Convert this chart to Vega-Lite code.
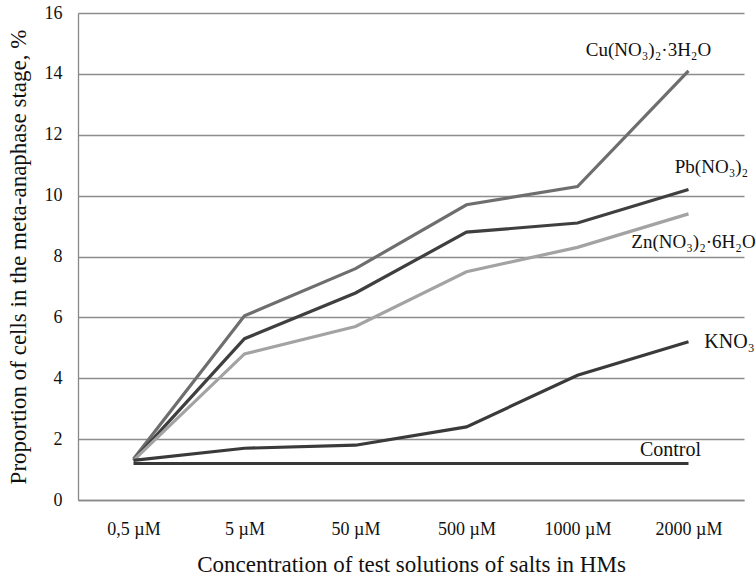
{
  "$schema": "https://vega.github.io/schema/vega-lite/v6.json",
  "width": 666,
  "height": 487,
  "autosize": {"type": "none"},
  "padding": {"left": 78, "top": 13, "right": 12, "bottom": 82},
  "background": "white",
  "config": {
    "view": {"stroke": null},
    "font": "Liberation Serif",
    "text": {"font": "Liberation Serif"}
  },
  "data": {
    "values": [
      {"series": "Cu", "conc": "0,5 µM", "value": 1.35},
      {"series": "Cu", "conc": "5 µM", "value": 6.05},
      {"series": "Cu", "conc": "50 µM", "value": 7.6},
      {"series": "Cu", "conc": "500 µM", "value": 9.7},
      {"series": "Cu", "conc": "1000 µM", "value": 10.3},
      {"series": "Cu", "conc": "2000 µM", "value": 14.1},
      {"series": "Pb", "conc": "0,5 µM", "value": 1.3},
      {"series": "Pb", "conc": "5 µM", "value": 5.3},
      {"series": "Pb", "conc": "50 µM", "value": 6.8},
      {"series": "Pb", "conc": "500 µM", "value": 8.8},
      {"series": "Pb", "conc": "1000 µM", "value": 9.1},
      {"series": "Pb", "conc": "2000 µM", "value": 10.2},
      {"series": "Zn", "conc": "0,5 µM", "value": 1.3},
      {"series": "Zn", "conc": "5 µM", "value": 4.8},
      {"series": "Zn", "conc": "50 µM", "value": 5.7},
      {"series": "Zn", "conc": "500 µM", "value": 7.5},
      {"series": "Zn", "conc": "1000 µM", "value": 8.3},
      {"series": "Zn", "conc": "2000 µM", "value": 9.4},
      {"series": "KNO3", "conc": "0,5 µM", "value": 1.3},
      {"series": "KNO3", "conc": "5 µM", "value": 1.7},
      {"series": "KNO3", "conc": "50 µM", "value": 1.8},
      {"series": "KNO3", "conc": "500 µM", "value": 2.4},
      {"series": "KNO3", "conc": "1000 µM", "value": 4.1},
      {"series": "KNO3", "conc": "2000 µM", "value": 5.2},
      {"series": "Control", "conc": "0,5 µM", "value": 1.2},
      {"series": "Control", "conc": "5 µM", "value": 1.2},
      {"series": "Control", "conc": "50 µM", "value": 1.2},
      {"series": "Control", "conc": "500 µM", "value": 1.2},
      {"series": "Control", "conc": "1000 µM", "value": 1.2},
      {"series": "Control", "conc": "2000 µM", "value": 1.2}
    ]
  },
  "encoding": {
    "x": {
      "field": "conc", "type": "nominal",
      "sort": ["0,5 µM", "5 µM", "50 µM", "500 µM", "1000 µM", "2000 µM"],
      "scale": {"type": "point", "padding": 0.5},
      "axis": {
        "title": "Concentration of test solutions of salts in HMs",
        "titleFont": "Liberation Serif", "labelFont": "Liberation Serif",
        "titleFontWeight": "normal", "titleColor": "#111", "labelColor": "#111",
        "titleFontSize": 23, "titlePadding": 15,
        "labelFontSize": 18, "labelAngle": 0, "labelPadding": 20,
        "ticks": false, "domainColor": "#888888", "domainWidth": 1.3, "grid": false
      }
    },
    "y": {
      "field": "value", "type": "quantitative",
      "scale": {"domain": [0, 16], "nice": false},
      "axis": {
        "title": "Proportion of cells in the meta-anaphase stage, %",
        "titleFont": "Liberation Serif", "labelFont": "Liberation Serif",
        "titleFontWeight": "normal", "titleColor": "#111", "labelColor": "#111",
        "titleFontSize": 23, "titlePadding": 14,
        "labelFontSize": 18, "labelPadding": 16,
        "values": [0, 2, 4, 6, 8, 10, 12, 14, 16],
        "ticks": false, "domainColor": "#888888", "domainWidth": 1.3,
        "grid": true, "gridColor": "#8c8c8c", "gridWidth": 1.3
      }
    }
  },
  "layer": [
    {
      "mark": {"type": "line", "strokeWidth": 3.2},
      "encoding": {
        "color": {
          "field": "series", "type": "nominal",
          "scale": {"domain": ["Cu", "Pb", "Zn", "KNO3", "Control"], "range": ["#6e6e6e", "#3f3f3f", "#a3a3a3", "#3a3a3a", "#383838"]},
          "legend": null
        }
      }
    },
    {
      "transform": [{"filter": "datum.series === 'Cu' && datum.conc === '2000 µM'"}],
      "mark": {"type": "text", "text": "Cu(NO₃)₂·3H₂O", "font": "Liberation Serif", "fontSize": 19, "dx": -40, "dy": -21, "color": "#111"}
    },
    {
      "transform": [{"filter": "datum.series === 'Pb' && datum.conc === '2000 µM'"}],
      "mark": {"type": "text", "text": "Pb(NO₃)₂", "font": "Liberation Serif", "fontSize": 19, "dx": 23, "dy": -23, "color": "#111"}
    },
    {
      "transform": [{"filter": "datum.series === 'Zn' && datum.conc === '2000 µM'"}],
      "mark": {"type": "text", "text": "Zn(NO₃)₂·6H₂O", "font": "Liberation Serif", "fontSize": 19, "dx": 5, "dy": 28, "color": "#111"}
    },
    {
      "transform": [{"filter": "datum.series === 'KNO3' && datum.conc === '2000 µM'"}],
      "mark": {"type": "text", "text": "KNO₃", "font": "Liberation Serif", "fontSize": 20, "dx": 41, "dy": 0, "color": "#111"}
    },
    {
      "transform": [{"filter": "datum.series === 'Control' && datum.conc === '2000 µM'"}],
      "mark": {"type": "text", "text": "Control", "font": "Liberation Serif", "fontSize": 20, "dx": -18, "dy": -13, "color": "#111"}
    }
  ]
}
